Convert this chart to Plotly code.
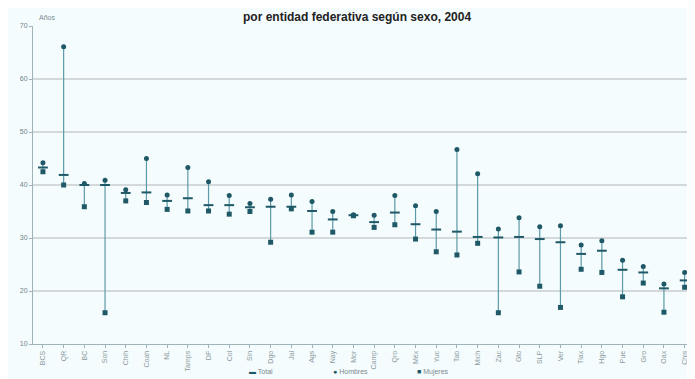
import plotly.graph_objects as go

entidades = ["BCS", "QR", "BC", "Son", "Chih", "Coah", "NL", "Tamps", "DF", "Col",
             "Sin", "Dgo", "Jal", "Ags", "Nay", "Mor", "Camp", "Qro", "Méx", "Yuc",
             "Tab", "Mich", "Zac", "Gto", "SLP", "Ver", "Tlax", "Hgo", "Pue", "Gro",
             "Oax", "Chis"]
total =   [43.3, 41.9, 40.0, 40.0, 38.5, 38.6, 37.0, 37.5, 36.2, 36.2,
           35.8, 35.9, 35.9, 35.1, 33.5, 34.3, 33.0, 34.8, 32.6, 31.6,
           31.2, 30.2, 30.1, 30.2, 29.8, 29.2, 27.0, 27.6, 24.0, 23.5,
           20.5, 22.0]
hombres = [44.2, 66.1, 40.3, 40.9, 39.1, 45.0, 38.1, 43.3, 40.6, 38.0,
           36.5, 37.3, 38.1, 36.9, 35.0, 34.4, 34.3, 38.0, 36.1, 35.0,
           46.7, 42.1, 31.7, 33.8, 32.1, 32.3, 28.7, 29.5, 25.8, 24.6,
           21.3, 23.5]
mujeres = [42.5, 40.0, 35.9, 15.9, 37.0, 36.7, 35.4, 35.1, 35.1, 34.5,
           35.0, 29.2, 35.5, 31.1, 31.1, 34.2, 32.0, 32.5, 29.8, 27.4,
           26.8, 29.0, 15.9, 23.6, 20.9, 16.9, 24.1, 23.5, 18.9, 21.5,
           16.0, 20.7]
y_ticks = [10, 20, 30, 40, 50, 60, 70]
legend_labels = ["Total", "Hombres", "Mujeres"]
legend_glyphs = ["▬", "●", "■"]

line_col = "#5b9aa8"
mark_col = "#1f5866"

# vertical range lines (min to max per entity)
lx, ly = [], []
for e, t, h, m in zip(entidades, total, hombres, mujeres):
    lx += [e, e, None]
    ly += [min(t, h, m), max(t, h, m), None]

fig = go.Figure()
fig.add_trace(go.Scatter(x=lx, y=ly, mode="lines", line=dict(color=line_col, width=1.2),
                         showlegend=False, hoverinfo="skip", cliponaxis=False))
fig.add_trace(go.Scatter(x=entidades, y=total, mode="markers", name="Total", cliponaxis=False,
                         marker=dict(symbol="line-ew", size=7,
                                     line=dict(color=mark_col, width=2))))
fig.add_trace(go.Scatter(x=entidades, y=hombres, mode="markers", name="Hombres", cliponaxis=False,
                         marker=dict(symbol="circle", size=5, color=mark_col)))
fig.add_trace(go.Scatter(x=entidades, y=mujeres, mode="markers", name="Mujeres", cliponaxis=False,
                         marker=dict(symbol="square", size=5, color=mark_col)))

annotations = [
    dict(text="<b>por entidad federativa según sexo, 2004</b>", xref="paper", yref="paper",
         x=0.49, y=1, yshift=18, xanchor="center", yanchor="top", showarrow=False,
         font=dict(size=12, color="#222222")),
    dict(text="Años", xref="paper", yref="paper", x=0.0, xshift=4, y=1, yshift=3,
         xanchor="left", yanchor="bottom", showarrow=False,
         font=dict(size=7, color="#7a8a90")),
]
for i, (g, lab) in enumerate(zip(legend_glyphs, legend_labels)):
    annotations.append(dict(
        text=f"<span style='color:{mark_col}'>{g}</span> {lab}", xref="paper", yref="paper",
        x=0.323 + 0.127 * i, y=-0.088, xanchor="left", yanchor="middle", showarrow=False,
        font=dict(size=7, color="#7a8a90")))

fig.update_layout(
    width=687, height=371,
    margin=dict(l=25, r=0, t=18, b=35),
    paper_bgcolor="#f5fcfd", plot_bgcolor="#f5fcfd",
    font=dict(family="Liberation Sans, Arial, sans-serif", size=7, color="#7a8a90"),
    showlegend=False,
    annotations=annotations,
)
fig.update_xaxes(type="category", range=[-0.48, 31.5], tickangle=-90, automargin=False,
                 showgrid=False, showline=True, linecolor="#9fb3b8", linewidth=1,
                 ticks="outside", ticklen=3, tickcolor="#9fb3b8",
                 tickfont=dict(size=7, color="#8a9aa0"))
fig.update_yaxes(range=[10, 70], tickvals=y_ticks, showgrid=True, gridcolor="#d3d9da",
                 gridwidth=1.5, zeroline=False, showline=True, linecolor="#9fb3b8",
                 automargin=False, linewidth=1, ticks="outside", ticklen=3,
                 tickcolor="#9fb3b8", tickfont=dict(size=7, color="#6f8087"))

fig.write_html("out.html")
